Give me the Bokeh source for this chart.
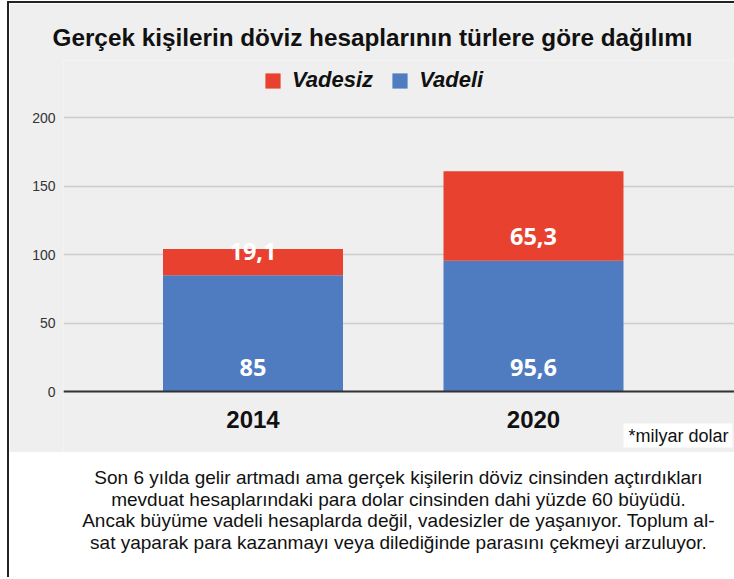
from bokeh.plotting import figure
from bokeh.models import (ColumnDataSource, Range1d, FixedTicker, Label, LabelSet,
                          Legend, LegendItem, Span)
from bokeh.layouts import column
from bokeh.embed import file_html
from bokeh.resources import INLINE
from bokeh.core.properties import value

# ---------------- data ----------------
years = ["2014", "2020"]
vadeli = [85.0, 95.6]
vadesiz = [19.1, 65.3]
y_ticks = [0, 50, 100, 150, 200]
series_names = ["Vadesiz", "Vadeli"]
title_text = "Gerçek kişilerin döviz hesaplarının türlere göre dağılımı"
unit_note = "*milyar dolar"
caption_lines = [
    "Son 6 yılda gelir artmadı ama gerçek kişilerin döviz cinsinden açtırdıkları",
    "mevduat hesaplarındaki para dolar cinsinden dahi yüzde 60 büyüdü.",
    "Ancak büyüme vadeli hesaplarda değil, vadesizler de yaşanıyor. Toplum al-",
    "sat yaparak para kazanmayı veya dilediğinde parasını çekmeyi arzuluyor.",
]

BLUE = "#4F7CC0"
RED = "#E8412F"
BG = "#EFEFEF"


def fmt(v):
    s = f"{v:.1f}"
    if s.endswith(".0"):
        s = s[:-2]
    return s.replace(".", ",")


xs = list(range(len(years)))
src = ColumnDataSource(dict(x=xs, Vadeli=vadeli, Vadesiz=vadesiz))

p = figure(width=725, height=449, output_backend="svg", toolbar_location=None,
           x_range=Range1d(-0.6756, 1.7166), y_range=Range1d(-44.57, 241.87),
           x_axis_location=None,
           min_border_left=54, min_border_right=0, min_border_top=57,
           min_border_bottom=0, background_fill_color=BG, border_fill_color=BG,
           outline_line_color=None)

rs = p.vbar_stack(["Vadeli", "Vadesiz"], x="x", width=0.6417, source=src,
                  fill_color=[BLUE, RED], line_color=None)

# grid
p.xgrid.visible = False
p.ygrid.ticker = FixedTicker(ticks=y_ticks)
p.ygrid.grid_line_color = "#CCCCCC"
p.ygrid.grid_line_width = 1.5
p.add_layout(Span(location=0, dimension="width", line_color="#333333", line_width=2))

# y axis
p.yaxis.ticker = FixedTicker(ticks=y_ticks)
p.yaxis.axis_line_color = None
p.yaxis.major_tick_line_color = None
p.yaxis.minor_tick_line_color = None
p.yaxis.major_tick_out = 0
p.yaxis.major_tick_in = 0
p.yaxis.major_label_standoff = 8
p.yaxis.major_label_text_font = "Liberation Sans"
p.yaxis.major_label_text_font_size = "14px"
p.yaxis.major_label_text_color = "#333333"

# category labels under the bars
cat_src = ColumnDataSource(dict(x=xs, y=[0] * len(xs), t=years))
p.add_layout(LabelSet(x="x", y="y", text="t", source=cat_src, text_align="center",
                      text_baseline="middle", y_offset=-28, text_color="#111111",
                      text_font=value("Liberation Sans"), text_font_style="bold",
                      text_font_size="24px"))

# value labels
lab_src = ColumnDataSource(dict(
    x=xs + xs,
    y=[0] * len(xs) + vadeli,
    t=[fmt(v) for v in vadeli] + [fmt(v) for v in vadesiz],
))
p.add_layout(LabelSet(x="x", y="y", text="t", source=lab_src, text_align="center",
                      text_baseline="middle", y_offset=24, text_color="white",
                      text_font=value("Open Sans"), text_font_style="bold",
                      text_font_size="23.5px"))

# title
p.title.text = title_text
p.title.align = "left"
p.title.offset = -11
p.title.vertical_align = "bottom"
p.title.standoff = 20
p.title.text_font = "Liberation Sans"
p.title.text_font_style = "bold"
p.title.text_font_size = "24.3px"
p.title.text_color = "#111111"

# legend
legend = Legend(items=[LegendItem(label=series_names[0], renderers=[rs[1]]),
                       LegendItem(label=series_names[1], renderers=[rs[0]])],
                location=(200, 359), orientation="horizontal",
                background_fill_alpha=0, border_line_color=None, padding=0, margin=0,
                spacing=17, label_standoff=10, glyph_width=19, glyph_height=19,
                label_height=19,
                label_text_font="Liberation Sans", label_text_font_style="bold italic",
                label_text_font_size="22px", label_text_color="#111111")
p.add_layout(legend)

# unit note
p.add_layout(Label(x=560, y=17, x_units="screen", y_units="screen", text=unit_note,
                   text_align="left", text_baseline="middle",
                   text_font="Liberation Sans", text_font_size="18px",
                   text_color="#111111", background_fill_color="white",
                   padding=(5, 4, 2, 2)))

# caption (its frame is aligned with the chart's frame, so map 1:1 in pixels)
q = figure(width=725, height=125, output_backend="svg", toolbar_location=None,
           x_range=Range1d(54, 725), y_range=Range1d(125, 0),
           min_border_left=54, min_border_right=0, min_border_top=0, min_border_bottom=0,
           x_axis_location=None, y_axis_location=None,
           background_fill_color="white", border_fill_color="white",
           outline_line_color=None)
q.xgrid.visible = False
q.ygrid.visible = False
q.text(x=[389] * len(caption_lines), y=[25 + i * 21.7 for i in range(len(caption_lines))],
       text=caption_lines, text_align="center", text_baseline="middle",
       text_font=value("Liberation Sans"), text_font_size="19px", text_color="#111111")

layout = column(p, q, spacing=0, margin=(1, 0, 0, 7),
                styles={"border-left": "2px solid #222222", "border-top": "2px solid #222222"})

open("out.html", "w").write(file_html(layout, INLINE))
